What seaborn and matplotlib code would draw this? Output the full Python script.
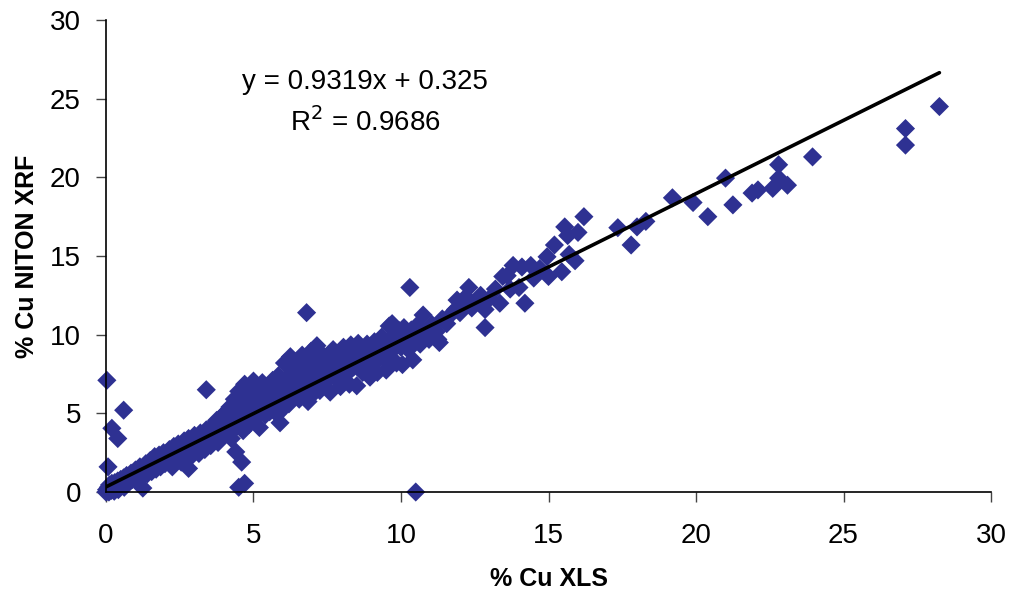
import numpy as np
import pandas as pd
import matplotlib
matplotlib.use("Agg")
import matplotlib.pyplot as plt
import seaborn as sns

sns.set_style("ticks")
plt.rcParams["font.family"] = ["Liberation Sans", "DejaVu Sans"]

# points, (XLS %Cu, NITON XRF %Cu)
band_0_2 = [(0.00, 0.00), (0.02, 0.15), (0.05, 0.05), (0.08, 0.30), (0.10, 0.00), (0.12, 0.45),
            (0.15, 0.20), (0.18, 0.10), (0.20, 0.55), (0.25, 0.35), (0.28, 0.05), (0.30, 0.60),
            (0.35, 0.40), (0.40, 0.70), (0.42, 0.15), (0.45, 0.55), (0.50, 0.80), (0.55, 0.45),
            (0.60, 0.90), (0.62, 0.30), (0.65, 0.75), (0.70, 1.05), (0.75, 0.60), (0.80, 0.95),
            (0.85, 1.20), (0.90, 0.80), (0.95, 1.10), (1.00, 1.40), (1.05, 0.70), (1.10, 1.25),
            (1.15, 1.60), (1.20, 1.00), (1.30, 1.45), (1.35, 1.80), (1.40, 1.15), (1.45, 1.55),
            (1.50, 2.00), (1.55, 1.30), (1.60, 1.70), (1.65, 2.25), (1.70, 1.45), (1.75, 1.90),
            (1.80, 2.35), (1.85, 1.60), (1.90, 2.05), (1.95, 2.50), (2.00, 1.80)]

band_2_4 = [(2.05, 2.45), (2.10, 1.95), (2.15, 2.70), (2.20, 2.25), (2.25, 1.60), (2.30, 2.90),
            (2.35, 2.40), (2.40, 2.05), (2.45, 3.05), (2.50, 2.55), (2.55, 1.90), (2.60, 2.80),
            (2.65, 3.25), (2.70, 2.35), (2.75, 2.95), (2.80, 3.40), (2.85, 2.20), (2.90, 3.05),
            (2.95, 2.65), (3.00, 3.60), (3.05, 2.85), (3.10, 3.25), (3.15, 2.45), (3.20, 3.75),
            (3.25, 3.05), (3.30, 3.45), (3.35, 2.70), (3.40, 3.95), (3.45, 3.25), (3.50, 3.65),
            (3.55, 2.95), (3.60, 4.20), (3.65, 3.45), (3.70, 3.85), (3.75, 4.55), (3.80, 3.15),
            (3.85, 4.05), (3.90, 4.75), (3.95, 3.60), (4.00, 4.30)]

band_4_6 = [(4.05, 5.05), (4.10, 3.80), (4.15, 4.50), (4.20, 5.40), (4.25, 3.40), (4.30, 4.75),
            (4.35, 5.90), (4.40, 4.10), (4.45, 5.20), (4.50, 6.40), (4.55, 4.55), (4.60, 5.60),
            (4.65, 3.90), (4.70, 6.85), (4.75, 4.95), (4.80, 5.90), (4.85, 4.30), (4.90, 6.30),
            (4.95, 5.30), (5.00, 7.05), (5.05, 4.70), (5.10, 5.75), (5.15, 6.55), (5.20, 4.10),
            (5.25, 5.20), (5.30, 6.95), (5.35, 6.05), (5.40, 4.90), (5.45, 5.60), (5.50, 6.70),
            (5.55, 5.10), (5.60, 6.25), (5.65, 7.10), (5.70, 5.50), (5.75, 6.45), (5.80, 4.95),
            (5.85, 7.40), (5.90, 6.00), (5.95, 6.80), (6.00, 5.30)]

band_6_8 = [(6.05, 8.20), (6.10, 6.50), (6.15, 7.25), (6.20, 5.60), (6.25, 8.60), (6.30, 6.85),
            (6.35, 7.70), (6.40, 6.10), (6.45, 8.30), (6.50, 7.05), (6.55, 5.90), (6.60, 7.60),
            (6.65, 8.70), (6.70, 6.60), (6.75, 7.30), (6.80, 8.10), (6.85, 5.75), (6.90, 7.00),
            (6.95, 8.95), (7.00, 7.55), (7.05, 6.30), (7.10, 8.25), (7.15, 9.30), (7.20, 7.10),
            (7.25, 6.45), (7.30, 7.90), (7.35, 8.70), (7.40, 6.90), (7.50, 7.50), (7.55, 8.40),
            (7.60, 6.35), (7.70, 9.05), (7.75, 7.85), (7.80, 7.20), (7.90, 8.55), (7.95, 6.70),
            (8.00, 7.95)]

band_8_10 = [(8.05, 9.20), (8.10, 7.40), (8.20, 8.45), (8.25, 6.85), (8.30, 9.35), (8.40, 7.95),
             (8.45, 8.80), (8.50, 6.75), (8.55, 9.45), (8.60, 8.20), (8.70, 7.60), (8.75, 8.95),
             (8.85, 9.40), (8.90, 8.00), (8.95, 7.30), (9.00, 8.70), (9.10, 9.55), (9.15, 8.30),
             (9.20, 7.60), (9.30, 9.00), (9.35, 9.85), (9.40, 8.50), (9.50, 7.75), (9.55, 9.40),
             (9.60, 10.55), (9.65, 8.90), (9.70, 10.70), (9.75, 9.90), (9.85, 8.20), (9.90, 9.50),
             (9.95, 10.25), (10.00, 9.20), (10.05, 8.10), (10.10, 10.45), (10.15, 9.70)]

band_10_15 = [(10.25, 9.05), (10.35, 10.30), (10.40, 8.40), (10.45, 9.80), (10.55, 10.60),
              (10.65, 9.40), (10.75, 11.25), (10.85, 10.10), (10.95, 9.70), (11.05, 10.65),
              (11.20, 10.20), (11.25, 9.70), (11.30, 9.50), (11.40, 11.00), (11.55, 10.70),
              (11.70, 11.30), (11.85, 11.60), (11.90, 12.20), (12.00, 11.40), (12.10, 11.80),
              (12.20, 12.40), (12.30, 13.00), (12.40, 11.70), (12.55, 12.10), (12.70, 12.50),
              (12.85, 11.60), (12.85, 10.45), (13.00, 12.30), (13.20, 12.90), (13.35, 12.00),
              (13.45, 13.70), (13.60, 13.75), (13.80, 14.40), (13.70, 12.90), (14.00, 13.00),
              (14.10, 14.30), (14.20, 12.00), (14.40, 14.40), (14.50, 13.60), (14.70, 14.20),
              (14.95, 14.95), (15.00, 13.70)]

high_end = [(15.20, 15.70), (15.45, 14.00), (15.55, 16.85), (15.65, 16.30), (15.70, 15.10),
            (15.90, 14.70), (16.00, 16.50), (16.20, 17.50), (17.35, 16.80), (17.80, 15.70),
            (18.00, 16.85), (18.30, 17.20), (19.20, 18.70), (19.90, 18.40), (20.40, 17.50),
            (21.00, 19.95), (21.25, 18.25), (21.90, 19.00), (22.10, 19.20), (22.60, 19.30),
            (22.80, 20.80), (22.80, 19.95), (23.10, 19.50), (23.95, 21.30), (27.10, 23.10),
            (27.10, 22.05), (28.25, 24.50)]

outliers = [(0.03, 7.10), (0.60, 5.20), (0.20, 4.05), (0.40, 3.40), (0.07, 1.60), (2.80, 1.50),
            (3.40, 6.50), (4.40, 2.55), (4.60, 1.90), (4.50, 0.30), (4.70, 0.55), (5.90, 4.40),
            (6.80, 11.40), (10.30, 13.00), (10.50, 0.00), (1.25, 0.25)]

slope = 0.9319
intercept = 0.325
r2 = 0.9686

pts = band_0_2 + band_2_4 + band_4_6 + band_6_8 + band_8_10 + band_10_15 + high_end + outliers
df = pd.DataFrame(pts, columns=["xls", "xrf"])

fig = plt.figure(figsize=(10.15, 5.99), dpi=100)
ax = fig.add_axes([0.1044, 0.1786, 0.872, 0.788])

sns.scatterplot(data=df, x="xls", y="xrf", marker="D", s=95, color="#2E3192",
                edgecolor="none", ax=ax, zorder=2, clip_on=False)

# trend line over the data range
xline = np.array([0, df["xls"].max()])
ax.plot(xline, slope * xline + intercept, color="black", lw=2.6, zorder=3)

ax.text(365 / 1015, 1 - 82 / 599, f"y = {slope}x + {intercept}", transform=fig.transFigure,
        ha="center", va="center", fontsize=20, color="black")
ax.text(365 / 1015, 1 - 122 / 599, "R$^2$ = " + f"{r2}", transform=fig.transFigure,
        ha="center", va="center", fontsize=20, color="black")

ax.set_xlim(0, 30)
ax.set_ylim(0, 30)
ax.set_xticks(range(0, 31, 5))
ax.set_yticks(range(0, 31, 5))
ax.tick_params(labelsize=20, length=7, width=1, colors="#444444", labelcolor="black")
ax.tick_params(axis="x", pad=15)
ax.tick_params(axis="y", pad=11)
ax.set_xlabel("% Cu XLS", fontsize=18, fontweight="bold", labelpad=13, color="black")
ax.set_ylabel("% Cu NITON XRF", fontsize=18, fontweight="bold", labelpad=8, color="black")
sns.despine(ax=ax)
for sp in ax.spines.values():
    sp.set_color("black")
    sp.set_linewidth(1.2)
ax.grid(False)

fig.savefig("out.png", dpi=100)
